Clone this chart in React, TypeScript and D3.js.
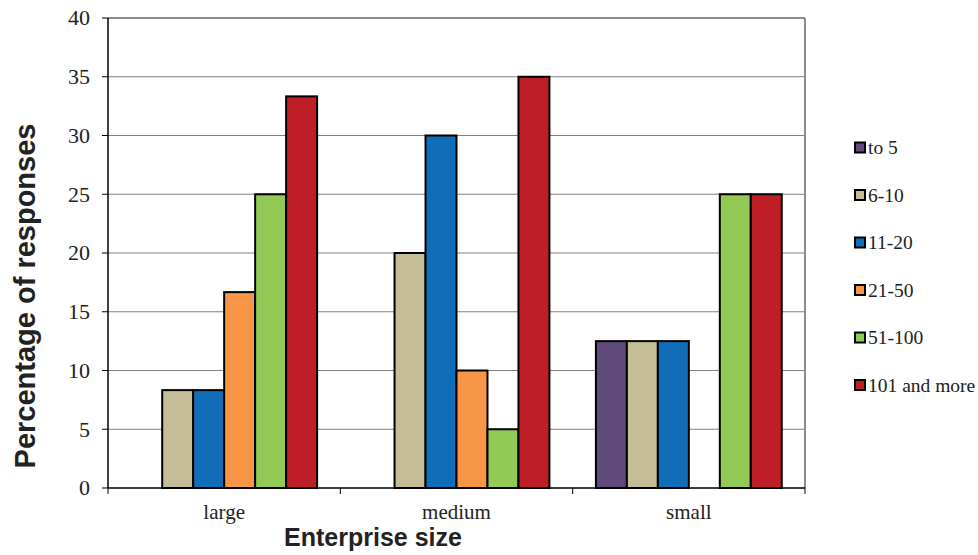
import React from "react";
import * as d3 from "d3";

const categories = ["large", "medium", "small"];
const seriesNames = ["to 5", "6-10", "11-20", "21-50", "51-100", "101 and more"];
const seriesColors = ["#604A7B", "#C4BD97", "#106EB8", "#F79646", "#93C955", "#BE1E26"];
const toFive = [0, 0, 12.5];
const sixToTen = [8.33, 20, 12.5];
const elevenToTwenty = [8.33, 30, 12.5];
const twentyOneToFifty = [16.67, 10, 0];
const fiftyOneToHundred = [25, 5, 25];
const hundredOnePlus = [33.33, 35, 25];
const yTicks = [0, 5, 10, 15, 20, 25, 30, 35, 40];

const seriesValues = [toFive, sixToTen, elevenToTwenty, twentyOneToFifty, fiftyOneToHundred, hundredOnePlus];

export default function App() {
  const W = 978, H = 555;
  const left = 108, right = 805, top = 18, bottom = 488;
  const x = d3.scaleBand<string>().domain(categories).range([left, right]).paddingInner(0).paddingOuter(0);
  const bw = x.bandwidth();
  const inner = d3.scaleBand<string>().domain(seriesNames).range([bw * 0.1, bw * 0.9]).padding(0);
  const y = d3.scaleLinear().domain([0, 40]).range([bottom, top]);
  const serif = "Liberation Serif, Times New Roman, serif";
  const sans = "Liberation Sans, Arial, sans-serif";

  return (
    <svg width={W} height={H} style={{ position: "absolute", left: 0, top: 0 }}>
      <rect x={0} y={0} width={W} height={H} fill="#fff" />
      {yTicks.filter(t => t > 0 && t < 40).map(t => (
        <line key={t} x1={left} x2={right} y1={y(t)} y2={y(t)} stroke="#808080" strokeWidth={1} />
      ))}
      <line x1={left} x2={right} y1={top} y2={top} stroke="#8c8c8c" strokeWidth={2} />
      <line x1={right} x2={right} y1={top} y2={bottom} stroke="#8c8c8c" strokeWidth={2} />
      {seriesValues.map((vals, si) =>
        vals.map((v, ci) =>
          v > 0 ? (
            <rect
              key={si + "-" + ci}
              x={(x(categories[ci]) as number) + (inner(seriesNames[si]) as number)}
              y={y(v)}
              width={inner.bandwidth()}
              height={bottom - y(v)}
              fill={seriesColors[si]}
              stroke="#000"
              strokeWidth={2}
            />
          ) : null
        )
      )}
      <line x1={left} x2={left} y1={top} y2={bottom} stroke="#000" strokeWidth={1.5} />
      <line x1={left} x2={right} y1={bottom} y2={bottom} stroke="#000" strokeWidth={1.5} />
      {yTicks.map(t => (
        <g key={t}>
          <line x1={left - 6} x2={left} y1={y(t)} y2={y(t)} stroke="#000" strokeWidth={1} />
          <text x={90} y={y(t)} dy="0.34em" textAnchor="end" style={{ fontFamily: serif }} fontSize={22} fill="#222">{t}</text>
        </g>
      ))}
      {[0, 1, 2, 3].map(i => (
        <line key={i} x1={left + i * bw} x2={left + i * bw} y1={bottom} y2={bottom + 6} stroke="#000" strokeWidth={1} />
      ))}
      {categories.map(c => (
        <text key={c} x={(x(c) as number) + bw / 2} y={519} textAnchor="middle" style={{ fontFamily: serif }} fontSize={21} fill="#222">{c}</text>
      ))}
      <text x={373} y={546} textAnchor="middle" style={{ fontFamily: sans }} fontWeight="bold" fontSize={25} fill="#222">Enterprise size</text>
      <text transform={`translate(35,296) rotate(-90)`} textAnchor="middle" style={{ fontFamily: sans }} fontWeight="bold" fontSize={29} fill="#222">Percentage of responses</text>
      {seriesNames.map((s, i) => {
        const cy = 147.5 + i * 47.5;
        return (
          <g key={s}>
            <rect x={855} y={cy - 5} width={10} height={10} fill={seriesColors[i]} stroke="#000" strokeWidth={2} />
            <text x={868} y={cy} dy="0.35em" style={{ fontFamily: serif }} fontSize={19.5} fill="#222">{s}</text>
          </g>
        );
      })}
    </svg>
  );
}
